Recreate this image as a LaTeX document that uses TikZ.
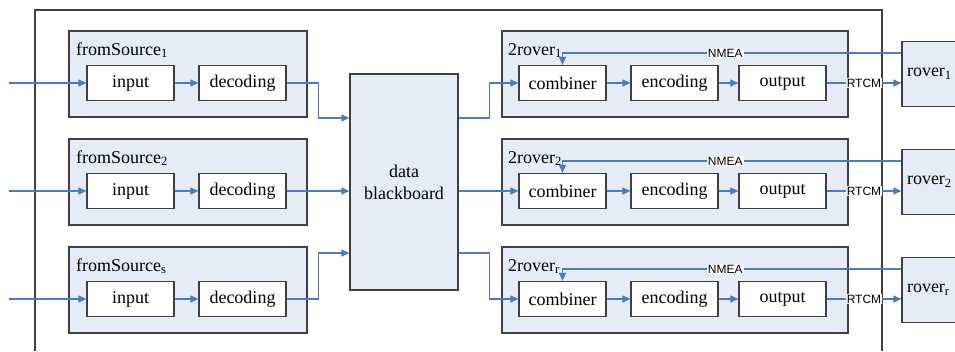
\documentclass[tikz,border=0pt]{standalone}
\usepackage{fontspec}
\setmainfont{Liberation Serif}
\newfontfamily\arialfont{Liberation Sans}
\usetikzlibrary{arrows.meta}
\definecolor{panel}{HTML}{E6ECF7}
\definecolor{edge}{HTML}{404040}
\definecolor{link}{HTML}{4A7CC4}

\begin{document}
\begin{tikzpicture}[x=1pt,y=-1pt,
	every node/.style={font=\fontsize{18}{22}\selectfont},
	grp/.style={draw=edge,fill=panel,line width=1.2pt,minimum height=86pt,inner sep=0pt},
	blk/.style={draw=edge,fill=white,line width=1.2pt,minimum width=87pt,minimum height=35pt,inner sep=0pt},
	title/.style={anchor=base west,inner sep=0pt},
	flow/.style={draw=link,line width=1.1pt,-{Triangle[length=8pt,width=7pt]}},
	tag/.style={font=\arialfont\fontsize{12}{12}\selectfont,fill=white,inner sep=1pt}]
	\useasboundingbox (0,0) rectangle (955,351);
	\draw[edge,line width=1.2pt] (35,351) |- (882,10) -- (882,351);
	% data blackboard
	\node[draw=edge,fill=panel,line width=1.2pt,minimum width=108pt,minimum height=216pt,align=center] (bb) at (404,182) {data\\blackboard};
	\foreach \r/\s/\t in {1/1/1,2/2/2,3/s/r}
	{
		\pgfmathsetmacro\y{83+108*(\r-1)}
		% fromSource
		\node[grp,minimum width=238pt] (src\r) at (188,\y-9) {};
		\node[title] (srct\r) at (76,\y-28) {fromSource\textsubscript{\s}};
		\node[blk] (inp\r) at (130.5,\y) {input};
		\node[blk] (dec\r) at (242.5,\y) {decoding};
		\coordinate (in\r) at (9,\y);
		\draw[flow] (in\r) -- (inp\r);
		\draw[flow] (inp\r) -- (dec\r);
		% 2rover
		\node[grp,minimum width=346pt] (rvg\r) at (675,\y-9) {};
		\node[title] (rvgt\r) at (508,\y-28) {2rover\textsubscript{\t}};
		\node[blk] (comb\r) at (562.5,\y) {combiner};
		\node[blk] (enc\r) at (674.5,\y) {encoding};
		\node[blk] (out\r) at (782.5,\y) {output};
		\node[draw=edge,fill=panel,line width=1.2pt,text width=80pt,align=left,inner xsep=5pt,inner ysep=0pt,minimum height=65pt] (rov\r) at (947,\y-9) {rover\textsubscript{\t}};
		\draw[flow] (comb\r) -- (enc\r);
		\draw[flow] (enc\r) -- (out\r);
		\draw[flow] (out\r) -- node[tag] {RTCM} (out\r -| rov\r.west);
		\draw[flow] ([yshift=21pt]rov\r.west) -| node[tag,pos=0.26] {NMEA} (comb\r.north);
	}
	\foreach \r/\e in {1/118,2/191,3/253}
	{
		\draw[flow] (dec\r.east) -- ++(32,0) |- (bb.west |- 0,\e);
		\draw[flow] (bb.east |- 0,\e) -- ++(31,0) |- (comb\r.west);
	}
\end{tikzpicture}
\end{document}
